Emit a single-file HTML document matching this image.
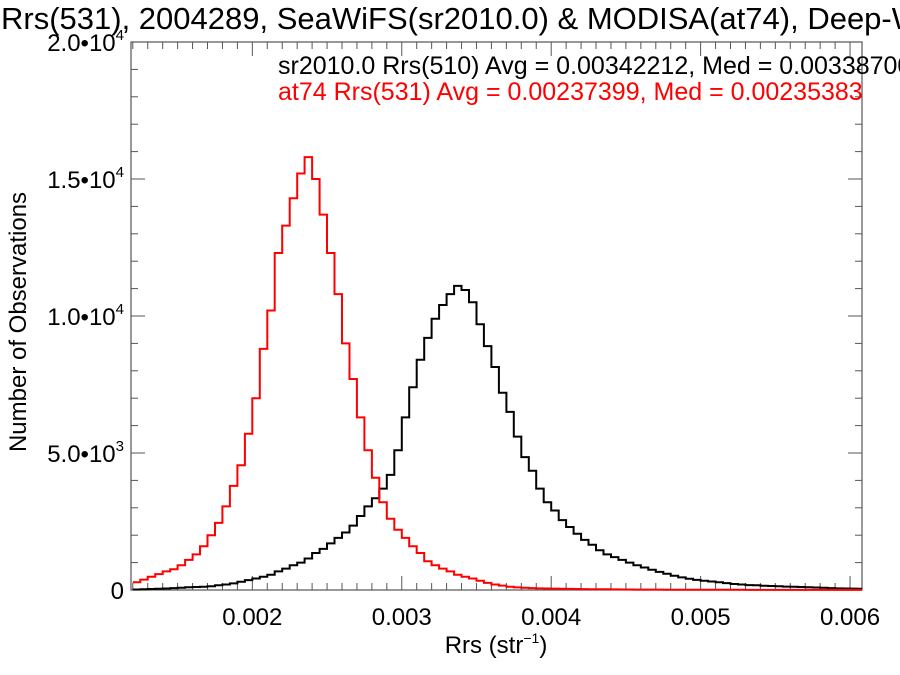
<!DOCTYPE html>
<html><head><meta charset="utf-8"><style>
body{margin:0;background:#fff;}
svg{display:block;font-family:"Liberation Sans",sans-serif;}
</style></head><body>
<svg id="chart" width="900" height="675" viewBox="0 0 900 675">
<text x="1" y="29" font-size="31" fill="#000">Rrs(531), 2004289, SeaWiFS(sr2010.0) &amp; MODISA(at74), Deep-Water</text>
<g id="axes"></g>
<g id="series"></g>
<text x="278" y="74" font-size="25" fill="#000">sr2010.0 Rrs(510) Avg = 0.00342212, Med = 0.00338700</text>
<text x="278" y="100" font-size="25" fill="#ff0000">at74 Rrs(531) Avg = 0.00237399, Med = 0.00235383</text>
<text transform="translate(26,322) rotate(-90)" text-anchor="middle" font-size="24">Number of Observations</text>
<text x="496" y="653" text-anchor="middle" font-size="24">Rrs (str<tspan font-size="14" dy="-10">−1</tspan><tspan dy="10">)</tspan></text>
</svg>
<script>
const binStart = 0.0012;
const binWidth = 0.00005;
const xTicks = [0.002, 0.003, 0.004, 0.005, 0.006];
const xTickLabels = ["0.002", "0.003", "0.004", "0.005", "0.006"];
const yTicks = [0, 5000, 10000, 15000, 20000];
const yTickLabels = ["0", "5.0•10|3", "1.0•10|4", "1.5•10|4", "2.0•10|4"];
const seawifsCounts = [20,25,35,45,55,70,85,100,110,120,140,170,200,240,300,360,420,480,560,680,780,900,1000,1150,1350,1500,1700,1900,2100,2350,2700,3050,3350,3700,4200,5100,6300,7400,8400,9200,9900,10400,10800,11100,10950,10500,9700,8900,8140,7200,6500,5600,4850,4350,3700,3200,2900,2550,2300,2050,1830,1650,1450,1300,1200,1100,1000,900,820,740,660,590,520,460,410,370,340,310,280,250,220,200,180,170,155,145,135,125,115,110,100,90,80,70,60,55,50,45];
const modisCounts = [280,380,480,580,680,760,900,1100,1300,1600,2000,2450,3050,3800,4550,5700,7000,8800,10200,12300,13300,14300,15200,15800,15000,13700,12300,10800,9000,7700,6300,5100,4100,3200,2600,2200,1900,1600,1350,1050,900,780,680,560,480,420,340,260,200,160,120,95,80,70,60,55,50,45,40,36,32,30,28,25,22,20,18,16,15,14,13,12,11,10,10,9,8,8,7,7,6,6,5,5,5,4,4,4,3,3,3,3,2,2,2,2,2,2];

const L=131,R=862,T=42,B=590;
const xMin=0.001188, xMax=0.00608, yMax=20000;
const sx=v=>L+(v-xMin)/(xMax-xMin)*(R-L);
const sy=v=>B-v/yMax*(B-T);
const NS="http://www.w3.org/2000/svg";
function mk(tag,attrs,parent){const e=document.createElementNS(NS,tag);for(const k in attrs)e.setAttribute(k,attrs[k]);parent.appendChild(e);return e;}
const axes=document.getElementById('axes'), series=document.getElementById('series');
const ax="#555";
const frame=mk('rect',{x:L,y:T,width:R-L,height:B-T,fill:'none',stroke:ax,'stroke-width':1.2},axes);


for(let i=0;i<=60;i++){const v=Math.round((0.0012+i*0.0001)*1e5)/1e5; if(v>xMax)break; const x=sx(v);
 const major=Math.abs(v*1000-Math.round(v*1000))<1e-6; const len=major?14:7;
 const t1=mk('line',{x1:x,x2:x,y1:B,y2:B-len,stroke:ax,'stroke-width':1},axes);
 
 
 const t2=mk('line',{x1:x,x2:x,y1:T,y2:T+len,stroke:ax,'stroke-width':1},axes);
 
 }
xTicks.forEach((v,i)=>{const t=mk('text',{x:sx(v),y:625,'text-anchor':'middle','font-size':24},axes);t.textContent=xTickLabels[i];
 
 });
for(let v=0;v<=yMax;v+=1000){const y=sy(v);const major=v%5000===0;const len=major?14:7;
 const t1=mk('line',{x1:L,x2:L+len,y1:y,y2:y,stroke:ax,'stroke-width':1},axes);
 
 
 const t2=mk('line',{x1:R,x2:R-len,y1:y,y2:y,stroke:ax,'stroke-width':1},axes);
 
 }
yTicks.forEach((v,i)=>{const parts=yTickLabels[i].split('|');const t=mk('text',{x:124,y:sy(v)+9,'text-anchor':'end','font-size':24},axes);
 
 
 t.appendChild(document.createTextNode(parts[0]));
 if(parts[1]){const ts=mk('tspan',{'font-size':15,dy:-11},t);ts.textContent=parts[1];}});
function stepPath(counts){let d='';counts.forEach((c,i)=>{const x0=Math.max(L,sx(binStart+i*binWidth)),x1=Math.min(R,sx(binStart+(i+1)*binWidth)),y=sy(c);
 d+=(i===0?'M':'L')+x0.toFixed(1)+','+y.toFixed(1)+'L'+x1.toFixed(1)+','+y.toFixed(1);});return d;}
const p1=mk('path',{d:stepPath(seawifsCounts),fill:'none',stroke:'#000','stroke-width':2},series);


const p2=mk('path',{d:stepPath(modisCounts),fill:'none',stroke:'#ff0000','stroke-width':2},series);


</script>
</body></html>
